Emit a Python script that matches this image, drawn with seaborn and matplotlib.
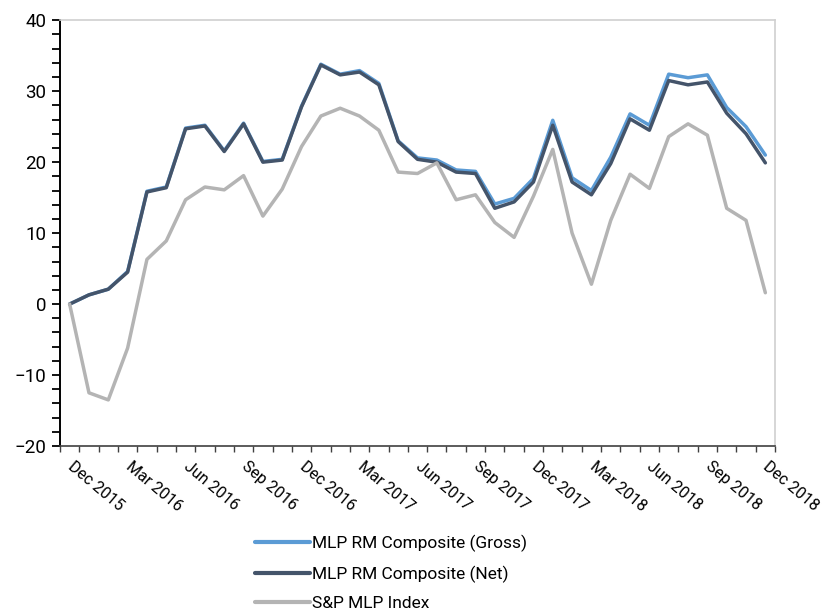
import pandas as pd
import numpy as np
import matplotlib.pyplot as plt
import seaborn as sns
from matplotlib.ticker import MultipleLocator, FixedLocator

colors = ["#5B9BD5", "#44546A", "#B4B4B4"]
sns.set_theme(style="white")
plt.rcParams["font.family"] = ["Roboto", "DejaVu Sans"]
plt.rcParams["text.color"] = "black"

# valores (retorno acumulado, %)
meses = pd.date_range("2015-12-01", "2018-12-01", freq="MS").strftime("%b %Y").tolist()

gross = [0.0, 1.3, 2.1, 4.6, 15.9, 16.5, 24.8, 25.2, 21.6, 25.5, 20.1, 20.4,
         27.9, 33.8, 32.4, 32.9, 31.1, 23.0, 20.6, 20.3, 18.9, 18.7, 14.1, 14.9,
         17.7, 25.9, 17.8, 16.0, 20.7, 26.8, 25.2, 32.4, 31.9, 32.3, 27.7, 25.0, 21.0]
net = [0.0, 1.3, 2.1, 4.5, 15.8, 16.4, 24.7, 25.1, 21.5, 25.4, 20.0, 20.3,
       27.8, 33.7, 32.3, 32.7, 30.9, 22.9, 20.4, 20.0, 18.6, 18.4, 13.5, 14.4,
       17.2, 25.2, 17.2, 15.4, 19.8, 26.1, 24.5, 31.5, 30.9, 31.3, 26.9, 24.0, 19.9]
sp_mlp = [0.0, -12.5, -13.5, -6.2, 6.3, 8.9, 14.7, 16.5, 16.1, 18.1, 12.4, 16.2,
          22.2, 26.5, 27.6, 26.5, 24.5, 18.6, 18.4, 19.9, 14.7, 15.4, 11.5, 9.4,
          15.2, 21.8, 10.0, 2.8, 11.8, 18.3, 16.3, 23.6, 25.4, 23.8, 13.5, 11.8, 1.6]

series = ["MLP RM Composite (Gross)", "MLP RM Composite (Net)", "S&P MLP Index"]

df = pd.DataFrame({
    "pos": np.arange(len(meses)),
    series[0]: gross,
    series[1]: net,
    series[2]: sp_mlp,
}).melt(id_vars="pos", var_name="serie", value_name="valor")

fig = plt.figure(figsize=(8.25, 6.13), dpi=100)
ax = fig.add_axes([0.0727, 0.2724, 0.8667, 0.6946])

sns.lineplot(data=df, x="pos", y="valor", hue="serie", hue_order=series,
             palette=colors, linewidth=2.5, ax=ax, legend=True)

n = len(meses)
ax.set_xlim(-0.5, n - 0.5)
ax.set_ylim(-20, 40)
ax.set_xlabel("")
ax.set_ylabel("")

ax.yaxis.set_major_locator(MultipleLocator(10))
ax.yaxis.set_minor_locator(MultipleLocator(2))
ax.tick_params(axis="y", which="both", direction="out", left=True, length=6,
               width=1.3, color="black", labelcolor="black", labelsize=13.5, pad=4)

ax.xaxis.set_major_locator(FixedLocator(np.arange(0, n, 3)))
ax.xaxis.set_minor_locator(FixedLocator(np.arange(n + 1) - 0.5))
ax.set_xticklabels(meses[::3], rotation=-40, ha="left", va="center",
                   rotation_mode="anchor")
ax.tick_params(axis="x", which="major", length=0, labelsize=11.5, pad=13,
               labelcolor="black")
ax.tick_params(axis="x", which="minor", direction="out", bottom=True, length=4,
               width=1, color="#404040")

for lado in ["top", "right"]:
    ax.spines[lado].set_color("#D0D0D0")
    ax.spines[lado].set_linewidth(1.2)
ax.spines["left"].set_color("black")
ax.spines["left"].set_linewidth(1.4)
ax.spines["bottom"].set_color("#404040")
ax.spines["bottom"].set_linewidth(1.2)

ax.legend(loc="upper left", bbox_to_anchor=(0.309, 0.128),
          bbox_transform=fig.transFigure, frameon=False, fontsize=12.5,
          handlelength=3.2, handletextpad=0.1, labelspacing=0.78,
          borderpad=0, borderaxespad=0)
for linha in ax.get_legend().get_lines():
    linha.set_linewidth(3)

fig.savefig("out.png", dpi=100)
